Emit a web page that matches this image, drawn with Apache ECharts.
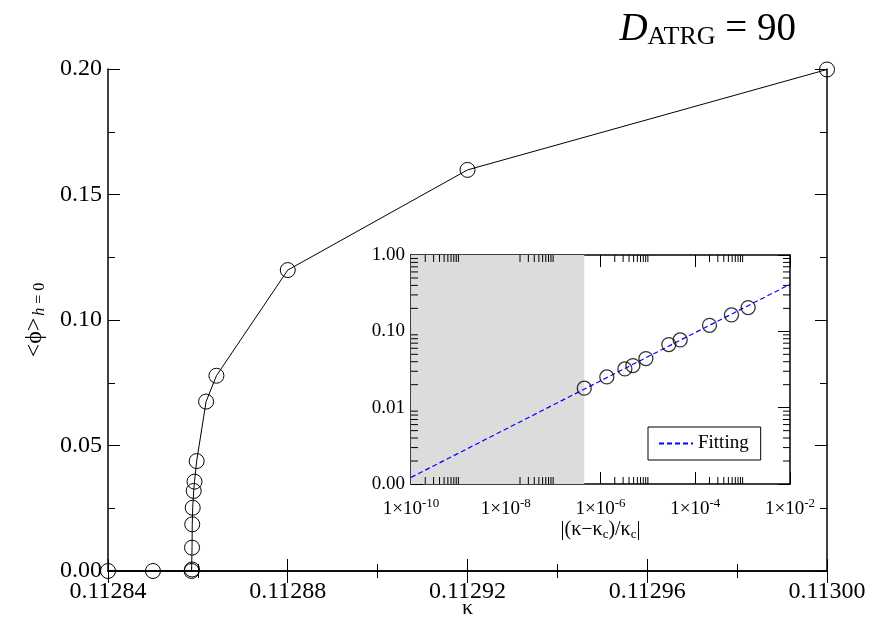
<!DOCTYPE html>
<html><head><meta charset="utf-8">
<script src="https://cdn.jsdelivr.net/npm/echarts@6/dist/echarts.min.js"></script>
<style>html,body{margin:0;padding:0;background:#fff}#c{width:887px;height:619px}</style>
</head><body><div id="c"></div><script>
// Main panel data: kappa vs <phi>_{h=0}
const kappa = [0.11284, 0.11285, 0.1128586, 0.1128587, 0.1128587, 0.11285875, 0.11285885, 0.11285907, 0.11285925, 0.11285973, 0.11286183, 0.11286413, 0.11288, 0.11292, 0.11300];
const phi   = [0.0, 0.0, 0.0, 0.0006, 0.0093, 0.0186, 0.0252, 0.0319, 0.0356, 0.0438, 0.0675, 0.0778, 0.1199, 0.1598, 0.1998];
// Inset data: |(kappa-kappa_c)/kappa_c| vs <phi>
const insetX = [4.54e-7, 1.36e-6, 3.27e-6, 4.83e-6, 9.08e-6, 2.77e-5, 4.81e-5, 2.0e-4, 5.82e-4, 1.31e-3];
const insetY = [0.0180, 0.0253, 0.0322, 0.0356, 0.0440, 0.0670, 0.0771, 0.1200, 0.1640, 0.2047];
// Fitting line (read endpoints)
const fitX = [1e-10, 1e-2];
const fitY = [0.00122, 0.413];
// Shaded region
const shadeX = [1e-10, 4.54e-7];
const shadeY = [0.001, 1];
// Inset minor tick positions
const insetXMinorMult = [2,3,4,5,6,7,8,9,10];
const insetXMinorDecades = [-10,-8,-6,-4];
const insetYMinorMult = [2,3,4,5,6,7,8,9];
const insetYMinorDecades = [-3,-2,-1];

const SERIF = '"Liberation Serif","Times New Roman",serif';
const xMinor = [], yMinor = [];
insetXMinorDecades.forEach(d => insetXMinorMult.forEach(m => xMinor.push(m * Math.pow(10, d))));
insetYMinorDecades.forEach(d => insetYMinorMult.forEach(m => yMinor.push(m * Math.pow(10, d))));

const chart = echarts.init(document.getElementById('c'), null, {renderer: 'canvas'});
const axLine = {show: true, lineStyle: {color: '#000', width: 1.5}};
const mainTick = {show: true, inside: true, length: 12, lineStyle: {color: '#000', width: 1}};
const mainMinor = {show: true, splitNumber: 2, length: 7, lineStyle: {color: '#000', width: 1}};
const insetTick = {show: true, inside: true, length: 12, lineStyle: {color: '#000', width: 1}};

function tickRender(params, api) {
  const v = api.value(0);
  const isX = api.value(1) === 0;
  const L = 7;
  const style = {stroke: '#000', lineWidth: 1};
  if (isX) {
    const p0 = api.coord([v, 0.001]);
    const p1 = api.coord([v, 1]);
    return {type: 'group', children: [
      {type: 'line', shape: {x1: p0[0], y1: p0[1], x2: p0[0], y2: p0[1] - L}, style},
      {type: 'line', shape: {x1: p1[0], y1: p1[1], x2: p1[0], y2: p1[1] + L}, style}
    ]};
  } else {
    const p0 = api.coord([1e-10, v]);
    const p1 = api.coord([1e-2, v]);
    return {type: 'group', children: [
      {type: 'line', shape: {x1: p0[0], y1: p0[1], x2: p0[0] + L, y2: p0[1]}, style},
      {type: 'line', shape: {x1: p1[0], y1: p1[1], x2: p1[0] - L, y2: p1[1]}, style}
    ]};
  }
}

function shadeRender(params, api) {
  const p0 = api.coord([shadeX[0], shadeY[1]]);
  const p1 = api.coord([shadeX[1], shadeY[0]]);
  return {type: 'rect', shape: {x: p0[0], y: p0[1], width: p1[0] - p0[0], height: p1[1] - p0[1]},
          style: {fill: '#dcdcdc'}};
}

const option = {
  backgroundColor: '#fff',
  animation: false,
  title: {
    text: '{d|D}{s|ATRG}{e| = 90}',
    right: 86, top: 4,
    textStyle: {
      rich: {
        d: {fontFamily: SERIF, fontStyle: 'italic', fontWeight: 'normal', fontSize: 39, color: '#000'},
        s: {fontFamily: SERIF, fontWeight: 'normal', fontSize: 26, color: '#000', padding: [15, 0, 0, 0]},
        e: {fontFamily: SERIF, fontWeight: 'normal', fontSize: 39, color: '#000'}
      }
    }
  },
  grid: [
    {left: 108, top: 69, width: 719, height: 502, show: false, outerBoundsMode: 'none', containLabel: false},
    {left: 411, top: 255, width: 379, height: 229, show: true, backgroundColor: '#fff', borderWidth: 0, outerBoundsMode: 'none', containLabel: false}
  ],
  legend: {
    data: ['Fitting'],
    left: 648, top: 427,
    orient: 'horizontal',
    backgroundColor: '#fff',
    borderColor: '#000', borderWidth: 1, borderRadius: 0,
    padding: [7, 12, 7, 10],
    itemWidth: 34, itemHeight: 12, itemGap: 10,
    itemStyle: {opacity: 0},
    textStyle: {fontFamily: SERIF, fontSize: 19, color: '#000'},
    z: 20
  },
  xAxis: [
    {gridIndex: 0, type: 'value', min: 0.11284, max: 0.11300, interval: 0.00004, position: 'bottom',
     axisLine: axLine, axisTick: mainTick, minorTick: mainMinor, splitLine: {show: false},
     axisLabel: {fontFamily: SERIF, fontSize: 24, color: '#000', margin: 9, formatter: v => v.toFixed(5)},
     name: 'κ', nameLocation: 'middle', nameGap: 26, nameMoveOverlap: false,
     nameTextStyle: {fontFamily: SERIF, fontSize: 22, color: '#000'}},
    {gridIndex: 0, type: 'value', min: 0.11284, max: 0.11300, interval: 0.00004, position: 'top',
     axisLine: axLine, axisTick: mainTick, minorTick: mainMinor, splitLine: {show: false},
     axisLabel: {show: false}},
    {gridIndex: 1, type: 'log', logBase: 10, min: 1e-10, max: 1e-2, interval: 2, position: 'bottom',
     axisLine: axLine, axisTick: insetTick, splitLine: {show: false},
     axisLabel: {margin: 13, color: '#000',
       formatter: v => '{a|1×10}{s|' + Math.round(Math.log10(v)) + '}',
       rich: {a: {fontFamily: SERIF, fontSize: 19, color: '#000'},
              s: {fontFamily: SERIF, fontSize: 13, color: '#000', padding: [0, 0, 12, 0]}}},
     name: '{a||(κ−κ}{s|c}{a|)/κ}{s|c}{a||}', nameLocation: 'middle', nameGap: 34,
     nameTextStyle: {rich: {a: {fontFamily: SERIF, fontSize: 20, color: '#000'},
                            s: {fontFamily: SERIF, fontSize: 13, color: '#000', padding: [10, 0, 0, 0]}}}},
    {gridIndex: 1, type: 'log', logBase: 10, min: 1e-10, max: 1e-2, interval: 2, position: 'top',
     axisLine: axLine, axisTick: insetTick, splitLine: {show: false}, axisLabel: {show: false}}
  ],
  yAxis: [
    {gridIndex: 0, type: 'value', min: 0, max: 0.2, interval: 0.05, position: 'left',
     axisLine: axLine, axisTick: mainTick, minorTick: mainMinor, splitLine: {show: false},
     axisLabel: {fontFamily: SERIF, fontSize: 24, color: '#000', margin: 6, formatter: v => v.toFixed(2)},
     name: '{a|<ϕ>}{b|h}{c| = 0}', nameLocation: 'middle', nameGap: 60, nameRotate: 90,
     nameTextStyle: {rich: {
       a: {fontFamily: SERIF, fontSize: 24, color: '#000'},
       b: {fontFamily: SERIF, fontSize: 16, fontStyle: 'italic', color: '#000', padding: [10, 0, 0, 2]},
       c: {fontFamily: SERIF, fontSize: 16, color: '#000', padding: [10, 0, 0, 0]}}}},
    {gridIndex: 0, type: 'value', min: 0, max: 0.2, interval: 0.05, position: 'right',
     axisLine: axLine, axisTick: mainTick, minorTick: mainMinor, splitLine: {show: false},
     axisLabel: {show: false}},
    {gridIndex: 1, type: 'log', logBase: 10, min: 0.001, max: 1, interval: 1, position: 'left',
     axisLine: axLine, axisTick: insetTick, splitLine: {show: false},
     axisLabel: {fontFamily: SERIF, fontSize: 19, color: '#000', margin: 6, formatter: v => v.toFixed(2)}},
    {gridIndex: 1, type: 'log', logBase: 10, min: 0.001, max: 1, interval: 1, position: 'right',
     axisLine: axLine, axisTick: insetTick, splitLine: {show: false}, axisLabel: {show: false}}
  ],
  series: [
    {type: 'line', xAxisIndex: 0, yAxisIndex: 0, name: 'main',
     data: kappa.map((k, i) => [k, phi[i]]),
     symbol: 'circle', symbolSize: 15, clip: false,
     lineStyle: {color: '#000', width: 1},
     itemStyle: {color: 'rgba(0,0,0,0)', borderColor: '#000', borderWidth: 1}},
    {type: 'custom', xAxisIndex: 2, yAxisIndex: 2, name: 'shade', z: 3, silent: true,
     data: [[shadeX[0], shadeY[0]]], renderItem: shadeRender},
    {type: 'line', xAxisIndex: 2, yAxisIndex: 2, name: 'Fitting', z: 10,
     data: fitX.map((x, i) => [x, fitY[i]]),
     symbol: 'none',
     lineStyle: {color: '#0000ff', width: 1.2, type: [5, 3]},
     itemStyle: {color: '#0000ff'}},
    {type: 'scatter', xAxisIndex: 2, yAxisIndex: 2, name: 'inset', z: 11,
     data: insetX.map((x, i) => [x, insetY[i]]),
     symbol: 'circle', symbolSize: 14,
     itemStyle: {color: 'rgba(0,0,0,0)', borderColor: '#000', borderWidth: 1.3}},
    {type: 'custom', xAxisIndex: 2, yAxisIndex: 2, name: 'xminor', z: 12, silent: true,
     data: xMinor.map(v => [v, 0]), renderItem: tickRender},
    {type: 'custom', xAxisIndex: 2, yAxisIndex: 2, name: 'yminor', z: 12, silent: true,
     data: yMinor.map(v => [v, 1]), renderItem: tickRender}
  ]
};
chart.setOption(option);
</script></body></html>
